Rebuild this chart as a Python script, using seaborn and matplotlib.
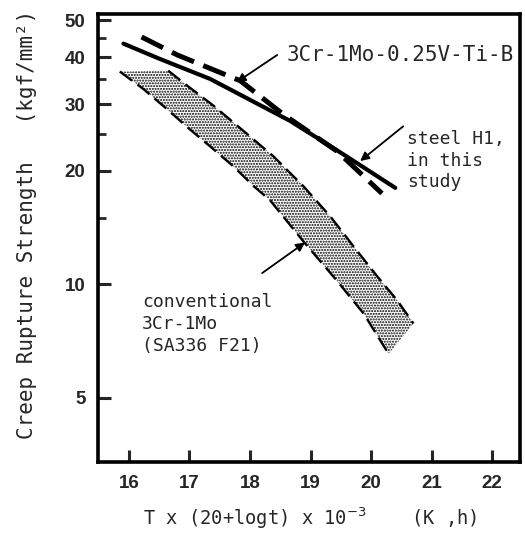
import numpy as np
import pandas as pd
import matplotlib
matplotlib.use("Agg")
import matplotlib.pyplot as plt
from matplotlib.ticker import FixedLocator, NullFormatter
import seaborn as sns

# Larson-Miller parameter T(20+log t) x 1e-3 versus creep rupture strength (kgf/mm2)
h1_lmp = [15.91, 16.5, 17.34, 18.0, 18.66, 19.54, 20.40]
h1_strength = [43.4, 39.6, 35.0, 30.8, 27.1, 22.1, 18.0]

vtib_lmp = [16.21, 16.8, 17.84, 18.55, 19.44, 20.18]
vtib_strength = [45.2, 40.5, 34.6, 28.2, 22.5, 17.4]

# scatter band of conventional 3Cr-1Mo (SA336 F21)
band_upper_lmp = [16.65, 16.93, 17.40, 17.89, 18.39, 18.88, 19.33, 19.71, 20.10, 20.43, 20.70]
band_upper_strength = [36.8, 33.9, 29.7, 25.5, 21.8, 18.2, 15.1, 12.6, 10.5, 9.07, 7.87]
band_lower_lmp = [15.85, 16.24, 16.63, 17.01, 17.34, 17.73, 18.06, 18.33, 18.88, 19.44, 19.88, 20.29]
band_lower_strength = [36.6, 32.9, 29.1, 25.7, 23.2, 20.5, 18.2, 16.7, 13.0, 10.2, 8.35, 6.54]

x_ticks = [16, 17, 18, 19, 20, 21, 22]
y_ticks = [5, 10, 20, 30, 40, 50]
y_minor_ticks = [15, 25, 35, 45]

sns.set_style("ticks")
plt.rcParams["font.family"] = ["DejaVu Sans Mono", "DejaVu Sans"]
plt.rcParams["hatch.linewidth"] = 1.0
plt.rcParams["hatch.color"] = "black"

fig, ax = plt.subplots(figsize=(5.25, 5.39), dpi=100)
fig.subplots_adjust(left=98 / 525, right=520 / 525, bottom=1 - 462 / 539, top=1 - 14 / 539)

ax.set_yscale("log")

# stippled band between the two dashed bounds
band_x = list(band_upper_lmp) + list(band_lower_lmp[::-1])
band_y = list(band_upper_strength) + list(band_lower_strength[::-1])
ax.fill(band_x, band_y, facecolor="white", edgecolor="black", linewidth=0,
        hatch="......", zorder=1)

thin_dash = (0, (6.5, 2.8))
sns.lineplot(x=band_upper_lmp, y=band_upper_strength, ax=ax, color="black",
             lw=1.7, linestyle=thin_dash, estimator=None, sort=False, zorder=2)
sns.lineplot(x=band_lower_lmp, y=band_lower_strength, ax=ax, color="black",
             lw=1.7, linestyle=thin_dash, estimator=None, sort=False, zorder=2)

sns.lineplot(x=vtib_lmp, y=vtib_strength, ax=ax, color="black", lw=3.6,
             linestyle=(0, (4.8, 2.0)), estimator=None, sort=False, zorder=3)
sns.lineplot(x=h1_lmp, y=h1_strength, ax=ax, color="black", lw=3.0,
             solid_capstyle="round", estimator=None, sort=False, zorder=4)

ax.set_xlim(15.49, 22.46)
ax.set_ylim(3.38, 52)

ax.xaxis.set_major_locator(FixedLocator(x_ticks))
ax.set_xticklabels([str(v) for v in x_ticks])
ax.yaxis.set_major_locator(FixedLocator(y_ticks))
ax.set_yticklabels([str(v) for v in y_ticks])
ax.yaxis.set_minor_locator(FixedLocator(y_minor_ticks))
ax.yaxis.set_minor_formatter(NullFormatter())
ax.xaxis.set_minor_locator(FixedLocator([]))

ax.tick_params(axis="both", which="major", direction="in", length=9, width=2.2,
               labelsize=13.5, pad=9)
ax.tick_params(axis="y", which="minor", direction="in", length=6, width=2.0)
for lab in ax.get_xticklabels() + ax.get_yticklabels():
    lab.set_fontfamily("Liberation Sans")
    lab.set_fontweight("bold")

for side in ["left", "right", "top", "bottom"]:
    ax.spines[side].set_visible(True)
    ax.spines[side].set_linewidth(2.6)
    ax.spines[side].set_color("black")

ax.set_xlabel(r"T x (20+logt) x 10$^{-3}$    (K ,h)", fontsize=13.5)
ax.xaxis.set_label_coords(0.502, -0.125)
ax.xaxis.label.set_verticalalignment("center")
ax.set_ylabel("Creep Rupture Strength   (kgf/mm²)", fontsize=15)
ax.yaxis.set_label_coords(-0.168, 0.531)
ax.yaxis.label.set_verticalalignment("center")

arrow = dict(arrowstyle="-|>", color="black", lw=1.3, mutation_scale=13,
             shrinkA=0, shrinkB=0)

ax.text(18.61, 40.5, "3Cr-1Mo-0.25V-Ti-B", fontsize=15, ha="left", va="center")
ax.annotate("", xy=(17.78, 34.3), xytext=(18.45, 40.5), arrowprops=arrow)

ax.text(20.60, 21.25, "steel H1,\nin this\nstudy", fontsize=13, ha="left",
        va="center", linespacing=1.25)
ax.annotate("", xy=(19.82, 21.2), xytext=(20.53, 26.2), arrowprops=arrow)

ax.text(16.22, 7.85, "conventional\n3Cr-1Mo\n(SA336 F21)", fontsize=13,
        ha="left", va="center", linespacing=1.3)
ax.annotate("", xy=(18.91, 12.9), xytext=(18.20, 10.7), arrowprops=arrow)

fig.savefig("out.png", dpi=100)
